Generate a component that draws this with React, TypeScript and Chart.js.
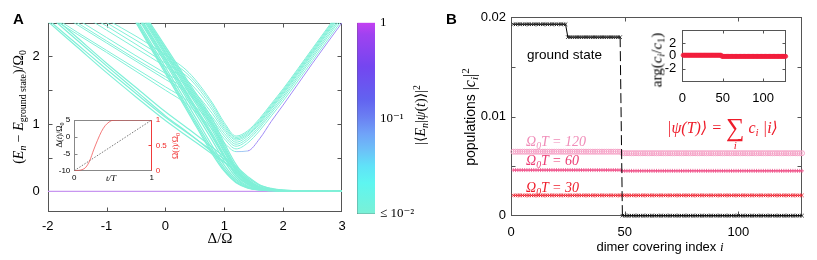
import React, { useEffect, useRef } from 'react';
import { Chart, registerables } from 'chart.js';
Chart.register(...registerables);

const SANS = '"Liberation Sans", Arial, Helvetica, sans-serif';
const SERIF = '"Liberation Serif", "Times New Roman", "DejaVu Serif", serif';

// ---------------- Panel A : spectrum vs detuning ----------------
const A_DELTA = [-2, -1.5, -1, -0.5, 0, 0.4, 0.8, 1.0, 1.2, 1.4, 1.6, 1.8, 2.0, 2.5, 3.0];
const A_X_TICKS = [-2, -1, 0, 1, 2, 3];
const A_X_LABELS = ['-2', '-1', '0', '1', '2', '3'];
const A_Y_TICKS = [0, 0.5, 1, 1.5, 2];
const A_Y_LABELS = ['0', '', '1', '', '2'];
const A_GROUND = [0, 0, 0, 0, 0, 0, 0, 0, 0, 0, 0, 0, 0, 0, 0];
const A_STEEP = [
  [4.75, 4.0, 3.25, 2.5, 1.75, 1.15, 0.55, 0.3, 0.13, 0.05, 0.02, 0.01, 0.005, 0.002, 0.001],
  [4.76, 4.01, 3.27, 2.52, 1.78, 1.18, 0.58, 0.32, 0.14, 0.055, 0.022, 0.011, 0.005, 0.002, 0.001],
  [4.76, 4.02, 3.28, 2.54, 1.8, 1.21, 0.62, 0.35, 0.16, 0.06, 0.025, 0.012, 0.006, 0.002, 0.001],
  [4.76, 4.03, 3.3, 2.57, 1.84, 1.26, 0.67, 0.39, 0.18, 0.07, 0.03, 0.014, 0.007, 0.003, 0.001],
  [4.78, 4.06, 3.34, 2.62, 1.9, 1.32, 0.75, 0.45, 0.21, 0.08, 0.035, 0.016, 0.008, 0.003, 0.001],
  [4.77, 4.06, 3.35, 2.64, 1.93, 1.36, 0.8, 0.5, 0.24, 0.1, 0.04, 0.018, 0.009, 0.003, 0.001],
  [4.78, 4.08, 3.37, 2.66, 1.96, 1.39, 0.82, 0.52, 0.25, 0.105, 0.042, 0.019, 0.009, 0.003, 0.001],
  [4.8, 4.1, 3.39, 2.68, 1.98, 1.41, 0.85, 0.54, 0.27, 0.11, 0.045, 0.02, 0.01, 0.004, 0.002],
  [4.82, 4.12, 3.42, 2.72, 2.02, 1.46, 0.9, 0.58, 0.3, 0.12, 0.05, 0.022, 0.011, 0.004, 0.002],
  [4.82, 4.13, 3.44, 2.74, 2.05, 1.49, 0.94, 0.6, 0.31, 0.13, 0.052, 0.023, 0.011, 0.004, 0.002],
  [4.83, 4.14, 3.45, 2.76, 2.07, 1.52, 0.97, 0.63, 0.33, 0.14, 0.055, 0.025, 0.012, 0.005, 0.002],
  [4.84, 4.15, 3.46, 2.78, 2.1, 1.55, 1.0, 0.65, 0.34, 0.15, 0.058, 0.026, 0.012, 0.005, 0.002],
  [4.84, 4.16, 3.48, 2.8, 2.12, 1.58, 1.03, 0.68, 0.36, 0.16, 0.06, 0.028, 0.013, 0.005, 0.002],
  [4.85, 4.18, 3.5, 2.82, 2.15, 1.61, 1.07, 0.72, 0.4, 0.18, 0.07, 0.03, 0.014, 0.006, 0.002],
];
const A_LOW = [
  [2.52, 2.14, 1.76, 1.4, 1.05, 0.8, 0.55, 0.43, 0.3, 0.17, 0.07, 0.03, 0.015, 0.006, 0.003],
  [2.55, 2.18, 1.81, 1.45, 1.1, 0.85, 0.6, 0.48, 0.34, 0.2, 0.09, 0.04, 0.02, 0.008, 0.004],
  [2.62, 2.24, 1.86, 1.49, 1.12, 0.86, 0.58, 0.44, 0.29, 0.15, 0.06, 0.025, 0.012, 0.005, 0.002],
  [2.66, 2.28, 1.9, 1.54, 1.18, 0.92, 0.65, 0.51, 0.37, 0.22, 0.1, 0.045, 0.02, 0.008, 0.004],
];
const A_VEE = [
  [2.64, 2.36, 2.09, 1.82, 1.55, 1.33, 1.0, 0.78, 0.63, 0.72, 0.9, 1.12, 1.34, 1.94, 2.54],
  [2.75, 2.47, 2.2, 1.93, 1.66, 1.44, 1.06, 0.82, 0.67, 0.76, 0.94, 1.16, 1.38, 1.98, 2.58],
  [2.78, 2.5, 2.23, 1.96, 1.7, 1.48, 1.1, 0.86, 0.7, 0.79, 0.97, 1.19, 1.41, 2.01, 2.61],
  [2.82, 2.55, 2.28, 2.01, 1.75, 1.55, 1.15, 0.9, 0.73, 0.82, 1.0, 1.22, 1.44, 2.04, 2.64],
  [2.93, 2.66, 2.39, 2.12, 1.85, 1.62, 1.2, 0.93, 0.76, 0.84, 1.02, 1.24, 1.46, 2.06, 2.66],
  [2.98, 2.71, 2.45, 2.18, 1.9, 1.68, 1.24, 0.96, 0.78, 0.86, 1.04, 1.26, 1.48, 2.08, 2.68],
  [3.04, 2.77, 2.5, 2.24, 1.97, 1.72, 1.28, 0.99, 0.8, 0.88, 1.06, 1.28, 1.5, 2.1, 2.7],
  [3.1, 2.82, 2.55, 2.3, 2.02, 1.76, 1.31, 1.02, 0.82, 0.9, 1.08, 1.3, 1.52, 2.12, 2.72],
];
const A_VEE_LOWEST = [2.6, 2.33, 2.06, 1.78, 1.5, 1.27, 0.92, 0.72, 0.59, 0.6, 0.78, 1.04, 1.28, 1.9, 2.5];

// ---------------- colour bar ----------------
const CB_RANGE = [0.01, 1];
const CB_TICKS = [0.01, 0.0316, 0.1, 0.316, 1];
const CB_LABELS = ['\u2264 10\u207B\u00B2', '', '10\u207B\u00B9', '', '1'];

// ---------------- inset of panel A : protocol ----------------
const IA_T = [0, 0.05, 0.1, 0.15, 0.2, 0.25, 0.3, 0.35, 0.4, 0.45, 0.5, 0.75, 1];
const IA_OMEGA = [0, 0.005, 0.02, 0.07, 0.2, 0.41, 0.6, 0.77, 0.89, 0.96, 0.995, 1, 1];
const IA_DELTA_T = [0, 1];
const IA_DELTA = [-10, 5];
const IA_X_TICKS = [0, 1];
const IA_X_LABELS = ['0', '1'];
const IA_L_TICKS = [-10, -5, 0, 5];
const IA_L_LABELS = ['-10', '-5', '0', '5'];
const IA_R_TICKS = [0, 0.5, 1];
const IA_R_LABELS = ['0', '0.5', '1'];

// ---------------- Panel B : populations ----------------
const B_X_MAX = 128;
const B_X_TICKS = [0, 50, 100];
const B_X_LABELS = ['0', '50', '100'];
const B_Y_TICKS = [0, 0.005, 0.01, 0.015, 0.02];
const B_Y_LABELS = ['0', '', '0.01', '', '0.02'];
// plateaus: [first index, last index, value]
const B_GROUND = [[1, 24, 0.0193], [25, 48, 0.018], [49, 128, 0]];
const B_T120 = [[1, 48, 0.00645], [49, 128, 0.0063]];
const B_T60 = [[1, 48, 0.0046], [49, 128, 0.00452]];
const B_T30 = [[1, 128, 0.00205]];
const B_ARG = [[1, 48, 0.1], [49, 128, -0.08]];
const IB_X_TICKS = [0, 50, 100];
const IB_X_LABELS = ['0', '50', '100'];
const IB_Y_TICKS = [-2, 0, 2];
const IB_Y_LABELS = ['-2', '0', '2'];

// ---------------- colours ----------------
const CYAN = '#80f0d8';
const LAVENDER = '#c896f0';
const VPURPLE = '#a08cf6';
const FRAME = '#555';
const RED = '#ee1c2a';
const PINK = '#f5a3c7';
const ROSE = '#ef4b85';

const pts = (xs: number[], ys: number[]) => xs.map((x, i) => ({ x, y: ys[i] }));
const plateauPts = (pl: number[][]) => {
  const out: { x: number; y: number }[] = [];
  for (const [a, b, v] of pl) for (let i = a; i <= b; i++) out.push({ x: i, y: v });
  return out;
};

type Side = 'left' | 'right' | 'top' | 'bottom';
function framePlugin(edges: Partial<Record<Side, string>>, ticks: { scale: string; sides: Side[]; len: number; color: string }[]) {
  return {
    id: 'frameTicks',
    beforeDatasetsDraw(chart: any) {
      const { ctx, chartArea: a } = chart;
      const L = Math.round(a.left) + 0.5, R = Math.round(a.right) - 0.5;
      const T = Math.round(a.top) + 0.5, B = Math.round(a.bottom) - 0.5;
      ctx.save();
      ctx.lineWidth = 1;
      const seg = (c: string, x1: number, y1: number, x2: number, y2: number) => {
        ctx.strokeStyle = c; ctx.beginPath(); ctx.moveTo(x1, y1); ctx.lineTo(x2, y2); ctx.stroke();
      };
      for (const t of ticks) {
        const sc = chart.scales[t.scale];
        for (const tk of sc.ticks) {
          const p0 = sc.getPixelForValue(tk.value);
          const p = Math.round(p0) + 0.5;
          for (const s of t.sides) {
            if (s === 'bottom' || s === 'top') {
              if (p0 < a.left + 1.5 || p0 > a.right - 1.5) continue;
              if (s === 'bottom') seg(t.color, p, B, p, B - t.len); else seg(t.color, p, T, p, T + t.len);
            } else {
              if (p0 < a.top + 1.5 || p0 > a.bottom - 1.5) continue;
              if (s === 'left') seg(t.color, L, p, L + t.len, p); else seg(t.color, R, p, R - t.len, p);
            }
          }
        }
      }
      if (edges.top) seg(edges.top, L - 0.5, T, R + 0.5, T);
      if (edges.bottom) seg(edges.bottom, L - 0.5, B, R + 0.5, B);
      if (edges.left) seg(edges.left, L, T, L, B);
      if (edges.right) seg(edges.right, R, T, R, B);
      ctx.restore();
    },
  };
}

function axis(o: {
  min: number; max: number; ticks: number[]; labels: string[]; size: number; pad: number; fit: number;
  horizontal: boolean; position?: string; color?: string; family?: string; type?: string;
}) {
  return {
    type: o.type ?? 'linear',
    position: o.position ?? (o.horizontal ? 'bottom' : 'left'),
    min: o.min,
    max: o.max,
    grid: { display: false, drawTicks: false },
    border: { display: false },
    afterBuildTicks: (s: any) => { s.ticks = o.ticks.map((v) => ({ value: v })); },
    ticks: {
      autoSkip: false, maxRotation: 0, minRotation: 0, padding: o.pad,
      color: o.color ?? '#000',
      font: { family: o.family ?? SANS, size: o.size },
      callback: (_v: any, i: number) => o.labels[i] ?? '',
    },
    afterFit: (s: any) => {
      if (o.horizontal) s.height = o.fit; else s.width = o.fit;
      s.paddingLeft = 0; s.paddingRight = 0; s.paddingTop = 0; s.paddingBottom = 0;
    },
  };
}

const baseOpts = (padding: any) => ({
  responsive: false,
  animation: false,
  devicePixelRatio: 1,
  events: [],
  layout: { padding, autoPadding: false },
  plugins: { legend: { display: false }, tooltip: { enabled: false } },
});

function makeA() {
  const line = (ys: number[], color: string, order = 0, width = 1) => ({
    data: pts(A_DELTA, ys), borderColor: color, borderWidth: width, pointRadius: 0,
    cubicInterpolationMode: 'monotone', fill: false, order,
  });
  const datasets: any[] = [
    ...A_STEEP.map((ys) => line(ys, CYAN, 0, 1.2)),
    ...A_LOW.map((ys) => line(ys, CYAN, 0, 1.2)),
    ...A_VEE.map((ys) => line(ys, CYAN)),
    {
      ...line(A_VEE_LOWEST, CYAN),
      segment: {
        borderColor: (c: any) => (c.p0.parsed.x >= 1.4 ? VPURPLE : c.p0.parsed.x >= 1.2 ? '#a0c8f2' : CYAN),
      },
    },
    line(A_GROUND, LAVENDER, 1, 1.3),
  ];
  return {
    type: 'line',
    data: { datasets },
    options: {
      ...baseOpts({ top: 22.7, right: 8, left: 0, bottom: 0 }),
      scales: {
        x: axis({ min: -2, max: 3, ticks: A_X_TICKS, labels: A_X_LABELS, size: 13, pad: 7, fit: 38.3, horizontal: true }),
        y: axis({ min: -0.3, max: 2.5, ticks: A_Y_TICKS, labels: A_Y_LABELS, size: 13, pad: 8, fit: 47.7, horizontal: false }),
      },
    },
    plugins: [framePlugin({ top: FRAME, bottom: FRAME, left: FRAME, right: FRAME }, [
      { scale: 'x', sides: ['bottom', 'top'], len: 4, color: FRAME },
      { scale: 'y', sides: ['left', 'right'], len: 4, color: FRAME },
    ])],
  };
}

function makeColorbar() {
  return {
    type: 'bar',
    data: {
      labels: [''],
      datasets: [{
        data: [CB_RANGE],
        categoryPercentage: 1,
        barPercentage: 1,
        borderWidth: 0,
        backgroundColor: (c: any) => {
          const a = c.chart.chartArea;
          if (!a) return 'transparent';
          const g = c.chart.ctx.createLinearGradient(0, a.bottom, 0, a.top);
          g.addColorStop(0, '#7af0d6');
          g.addColorStop(0.16, '#5ef6f0');
          g.addColorStop(0.25, '#60e2f8');
          g.addColorStop(0.33, '#6cc2f8');
          g.addColorStop(0.42, '#70a2f8');
          g.addColorStop(0.51, '#6a7ef2');
          g.addColorStop(0.6, '#6262f0');
          g.addColorStop(0.77, '#7446f0');
          g.addColorStop(0.94, '#a042f0');
          g.addColorStop(1, '#c440f2');
          return g;
        },
      }],
    },
    options: {
      ...baseOpts({ top: 22.7, right: 0, left: 7.3, bottom: 36.3 }),
      scales: {
        x: { display: false },
        y: axis({ type: 'logarithmic', min: CB_RANGE[0], max: CB_RANGE[1], ticks: CB_TICKS, labels: CB_LABELS, size: 13, pad: 5, fit: 45, horizontal: false, position: 'right', family: SERIF }),
      },
    },
    plugins: [framePlugin({ top: FRAME, bottom: FRAME, left: FRAME, right: FRAME }, [
      { scale: 'y', sides: ['right'], len: 4, color: FRAME },
    ])],
  };
}

function makeInsetA() {
  return {
    type: 'line',
    data: {
      datasets: [
        { data: pts(IA_T, IA_OMEGA), yAxisID: 'y2', borderColor: 'rgba(240,70,70,0.8)', borderWidth: 0.9, pointRadius: 0, cubicInterpolationMode: 'monotone', fill: false },
        { data: pts(IA_DELTA_T, IA_DELTA), yAxisID: 'y', borderColor: '#555', borderWidth: 0.8, borderDash: [1.5, 1.5], pointRadius: 0, fill: false },
      ],
    },
    options: {
      ...baseOpts({ top: 8, right: 0, left: 0, bottom: 0 }),
      scales: {
        x: axis({ min: 0, max: 1, ticks: IA_X_TICKS, labels: IA_X_LABELS, size: 8, pad: 2, fit: 16.3, horizontal: true }),
        y: axis({ min: -10, max: 5, ticks: IA_L_TICKS, labels: IA_L_LABELS, size: 8, pad: 4, fit: 34.3, horizontal: false }),
        y2: axis({ min: 0, max: 1, ticks: IA_R_TICKS, labels: IA_R_LABELS, size: 8, pad: 4, fit: 38.3, horizontal: false, position: 'right', color: '#f02a2a' }),
      },
    },
    plugins: [framePlugin({ top: '#888', bottom: '#888', left: '#888', right: '#f03a3a' }, [
      { scale: 'x', sides: ['bottom', 'top'], len: 3, color: '#888' },
      { scale: 'y', sides: ['left'], len: 3, color: '#888' },
      { scale: 'y2', sides: ['right'], len: 3, color: '#f03a3a' },
    ])],
  };
}

function makeB() {
  const common = { clip: false, borderWidth: 0.8, fill: false };
  return {
    type: 'line',
    data: {
      datasets: [
        {
          ...common, data: plateauPts(B_GROUND), borderColor: '#000', borderWidth: 1, pointStyle: 'crossRot', pointRadius: 2.5,
          pointBorderColor: '#111', pointBorderWidth: 0.8,
          segment: { borderDash: (c: any) => (Math.abs(c.p0.parsed.y - c.p1.parsed.y) > 0.005 ? [10, 4] : undefined) },
        },
        { ...common, data: plateauPts(B_T30), borderColor: RED, pointStyle: 'crossRot', pointRadius: 2.5, pointBorderColor: RED, pointBorderWidth: 0.8 },
        { ...common, data: plateauPts(B_T60), borderColor: ROSE, pointStyle: 'cross', pointRadius: 2, pointBorderColor: ROSE, pointBorderWidth: 0.8 },
        { ...common, data: plateauPts(B_T120), borderColor: PINK, pointStyle: 'circle', pointRadius: 2.5, pointBorderColor: PINK, pointBackgroundColor: 'rgba(0,0,0,0)', pointBorderWidth: 1 },
      ],
    },
    options: {
      ...baseOpts({ top: 17.3, right: 15, left: 0, bottom: 0 }),
      scales: {
        x: axis({ min: 0, max: B_X_MAX, ticks: B_X_TICKS, labels: B_X_LABELS, size: 13, pad: 9, fit: 34.3, horizontal: true }),
        y: axis({ min: 0, max: 0.02, ticks: B_Y_TICKS, labels: B_Y_LABELS, size: 13, pad: 5, fit: 81, horizontal: false }),
      },
    },
    plugins: [framePlugin({ top: FRAME, bottom: FRAME, left: FRAME, right: FRAME }, [
      { scale: 'x', sides: ['bottom', 'top'], len: 4, color: FRAME },
      { scale: 'y', sides: ['left', 'right'], len: 4, color: FRAME },
    ])],
  };
}

function makeInsetB() {
  return {
    type: 'line',
    data: {
      datasets: [
        { clip: false, data: plateauPts(B_ARG), borderColor: '#f21e3c', borderWidth: 1.5, fill: false, pointStyle: 'circle', pointRadius: 2, pointBorderColor: 'rgba(242,30,60,0.8)', pointBackgroundColor: 'rgba(242,30,60,0.5)', pointBorderWidth: 1 },
      ],
    },
    options: {
      ...baseOpts({ top: 10, right: 24.3, left: 0, bottom: 0 }),
      scales: {
        x: axis({ min: 0, max: B_X_MAX, ticks: IB_X_TICKS, labels: IB_X_LABELS, size: 13, pad: 9, fit: 28.3, horizontal: true }),
        y: axis({ min: -4, max: 4, ticks: IB_Y_TICKS, labels: IB_Y_LABELS, size: 13, pad: 6, fit: 42.3, horizontal: false }),
      },
    },
    plugins: [framePlugin({ top: FRAME, bottom: FRAME, left: FRAME, right: FRAME }, [
      { scale: 'x', sides: ['bottom', 'top'], len: 3, color: FRAME },
      { scale: 'y', sides: ['left', 'right'], len: 3, color: FRAME },
    ])],
  };
}

function ChartBox({ left, top, width, height, make }: { left: number; top: number; width: number; height: number; make: () => any }) {
  const ref = useRef<HTMLCanvasElement>(null);
  useEffect(() => {
    const chart = new Chart(ref.current as HTMLCanvasElement, make());
    return () => chart.destroy();
  }, []);
  return <canvas ref={ref} width={width} height={height} style={{ position: 'absolute', left, top, width, height }} />;
}

function Txt({ x, y, children, size = 13, family = SERIF, color = '#000', italic = false, rotate = false, anchor = 'middle', weight = 'normal' }: any) {
  const tx = anchor === 'start' ? '0' : anchor === 'end' ? '-100%' : '-50%';
  return (
    <div style={{
      position: 'absolute', left: x, top: y, transform: `translate(${tx}, -50%)${rotate ? ' rotate(-90deg)' : ''}`,
      fontFamily: family, fontSize: size, color, fontStyle: italic ? 'italic' : 'normal', fontWeight: weight,
      whiteSpace: 'nowrap', lineHeight: 1,
    }}>{children}</div>
  );
}
const Sub = ({ children, s = 0.7 }: any) => <span style={{ fontSize: `${s}em`, position: 'relative', top: '0.3em' }}>{children}</span>;
const Sup = ({ children, s = 0.7 }: any) => <span style={{ fontSize: `${s}em`, position: 'relative', top: '-0.5em' }}>{children}</span>;

export default function App() {
  return (
    <div style={{ position: 'absolute', left: 0, top: 0, width: 817, height: 260, background: '#fff', overflow: 'hidden', fontFamily: SERIF }}>
      <ChartBox left={0} top={0} width={350} height={250} make={makeA} />
      <ChartBox left={40} top={112} width={150} height={75} make={makeInsetA} />
      <ChartBox left={350} top={0} width={70} height={250} make={makeColorbar} />
      <ChartBox left={430} top={0} width={387} height={250} make={makeB} />
      <ChartBox left={640} top={20} width={170} height={90} make={makeInsetB} />

      <Txt x={18.5} y={18} family={SANS} size={15} weight="bold">A</Txt>
      <Txt x={451.5} y={18} family={SANS} size={15} weight="bold">B</Txt>

      <Txt x={19} y={107} rotate size={14}>
        (<i>E</i><Sub><i>n</i></Sub> − <i>E</i><Sub>ground state</Sub>)/Ω<Sub>0</Sub>
      </Txt>
      <Txt x={220} y={238} size={15}>Δ/Ω</Txt>

      <Txt x={59} y={135} rotate size={8.5}>Δ(<i>t</i>)/Ω<Sub>0</Sub></Txt>
      <Txt x={175} y={146} rotate size={8.5} color="#f02a2a">Ω(<i>t</i>)/Ω<Sub>0</Sub></Txt>
      <Txt x={111} y={178} size={9} italic>t/T</Txt>

      <Txt x={421} y={115} rotate size={14}>
        |⟨<i>E</i><Sub><i>n</i></Sub>|<i>ψ</i>(<i>t</i>)⟩|<Sup>2</Sup>
      </Txt>

      <Txt x={470} y={117} rotate size={14} family={SANS}>
        populations <span style={{ fontFamily: SERIF, fontSize: 16 }}>|<i>c</i><Sub><i>i</i></Sub>|<Sup>2</Sup></span>
      </Txt>
      <Txt x={660} y={246} size={13} family={SANS}>
        dimer covering index <i style={{ fontFamily: SERIF }}>i</i>
      </Txt>

      <Txt x={527} y={55} anchor="start" size={13.5} family={SANS}>ground state</Txt>
      <Txt x={526} y={142} anchor="start" size={14} italic color="#f08cb8">Ω<Sub>0</Sub>T = 120</Txt>
      <Txt x={526} y={161} anchor="start" size={14} italic color="#ec3c74">Ω<Sub>0</Sub>T = 60</Txt>
      <Txt x={526} y={188} anchor="start" size={14} italic color={RED}>Ω<Sub>0</Sub>T = 30</Txt>

      <Txt x={667} y={125} anchor="start" size={16} italic color={RED}>
        |<i>ψ</i>(<i>T</i>)⟩ = <span style={{ display: 'inline-block', position: 'relative', fontStyle: 'normal', fontSize: 26, top: '0.12em' }}>∑<span style={{ position: 'absolute', left: '50%', top: '95%', transform: 'translateX(-50%)', fontSize: 11, fontStyle: 'italic' }}>i</span></span> <i>c</i><Sub><i>i</i></Sub> |<i>i</i>⟩
      </Txt>

      <Txt x={657} y={60} rotate size={15}>
        arg(<i>c</i><Sub><i>i</i></Sub>/<i>c</i><Sub>1</Sub>)
      </Txt>
    </div>
  );
}
